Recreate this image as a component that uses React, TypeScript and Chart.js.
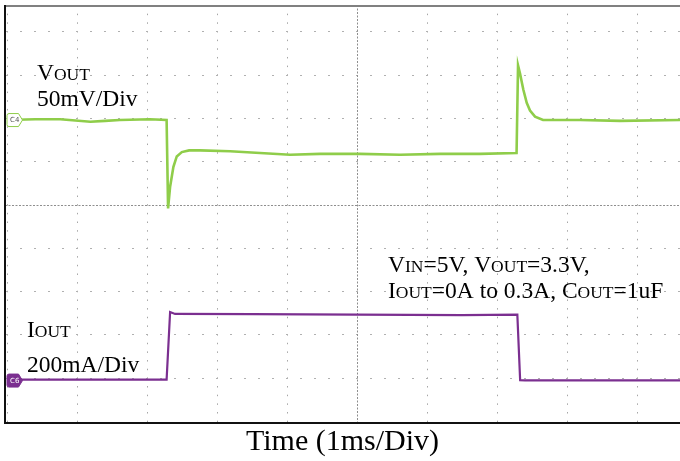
import React, { useEffect, useRef } from "react";
import { Chart, registerables } from "chart.js";

Chart.register(...registerables);

// ---- data (time in ms, Vout deviation in mV, Iout in mA) ----
const voutTimeMs = [
  0, 0.4, 0.76, 1.19, 1.4, 1.61, 2.04, 2.279,
  2.3, 2.329, 2.376, 2.424, 2.496, 2.6, 2.757,
  3.186, 3.614, 4.043, 4.471, 5.043, 5.614, 6.186, 6.757, 7.279,
  7.3, 7.33, 7.353, 7.376, 7.424, 7.471, 7.543, 7.657,
  8.186, 8.757, 9.614,
];
const voutMv = [
  0, 1, 1, -2, -1, 0, 1, 0,
  -102, -77, -54, -42, -37, -35, -35,
  -36, -38, -40, -39, -39, -40, -39, -39, -38,
  63, 53, 44, 35, 20, 11, 4, 0,
  0, -1, 0,
];
const ioutTimeMs = [0, 2.279, 2.329, 2.4, 3.5, 5.0, 6.5, 7.29, 7.33, 7.4, 9.614];
const ioutMa = [0, 0, 312, 303, 302, 300, 298, 300, -3, -4, -4];

const xGridTicks = [0, 1, 2, 3, 4, 5, 6, 7, 8, 9];
const yGridTicks = [-4, -3, -2, -1, 0, 1, 2, 3, 4];
const CENTER_MS = 5;

const xTitle = "Time (1ms/Div)";
// text in {} is drawn as small capitals
const voutLabel = ["V{OUT}", "50mV/Div"];
const ioutLabel = ["I{OUT}", "200mA/Div"];
const condLabel = ["V{IN}=5V, V{OUT}=3.3V,", "I{OUT}=0A to 0.3A, C{OUT}=1uF"];
const voutChannel = "C4";
const ioutChannel = "C6";

// ---- scope scaling ----
const X_MIN_MS = -0.03;
const X_MAX_MS = 9.614;
const DIV_TOP = 4.62;
const DIV_BOTTOM = -5.01;
const V_MV_PER_DIV = 50;
const V_ZERO_DIV = 1.963;
const I_MA_PER_DIV = 200;
const I_ZERO_DIV = -4.03;

const GREEN = "#8fcd4a";
const PURPLE = "#7b2f90";
const SERIF = '"Liberation Serif", "Times New Roman", serif';

function drawSC(ctx: CanvasRenderingContext2D, text: string, x: number, y: number, big: number, small: number) {
  const parts = text.split(/(\{[^}]*\})/).filter((p) => p.length);
  let cx = x;
  ctx.textBaseline = "alphabetic";
  ctx.textAlign = "left";
  for (const p of parts) {
    const sc = p.startsWith("{");
    const t = sc ? p.slice(1, -1) : p;
    ctx.font = `${sc ? small : big}px ${SERIF}`;
    ctx.fillText(t, cx, y);
    cx += ctx.measureText(t).width;
  }
}

function drawMarker(ctx: CanvasRenderingContext2D, x: number, y: number, label: string, fill: string, stroke: string, textColor: string) {
  const h = 13, w = 15.5, tip = 4;
  ctx.save();
  ctx.beginPath();
  ctx.moveTo(x + 2, y - h / 2);
  ctx.lineTo(x + w - tip, y - h / 2);
  ctx.lineTo(x + w, y);
  ctx.lineTo(x + w - tip, y + h / 2);
  ctx.lineTo(x + 2, y + h / 2);
  ctx.quadraticCurveTo(x, y + h / 2, x, y + h / 2 - 2);
  ctx.lineTo(x, y - h / 2 + 2);
  ctx.quadraticCurveTo(x, y - h / 2, x + 2, y - h / 2);
  ctx.closePath();
  ctx.fillStyle = fill;
  ctx.fill();
  ctx.lineWidth = 1;
  ctx.strokeStyle = stroke;
  ctx.stroke();
  ctx.fillStyle = textColor;
  ctx.font = '7px "DejaVu Sans", sans-serif';
  ctx.textBaseline = "middle";
  ctx.textAlign = "left";
  ctx.fillText(label, x + 3, y + 0.5);
  ctx.restore();
}

const scopeDecor = {
  id: "scopeDecor",
  beforeDatasetsDraw(chart: any) {
    const { ctx, chartArea: a, scales } = chart;
    const cx = Math.round(scales.x.getPixelForValue(CENTER_MS)) + 0.5;
    const cy = Math.round(scales.yG.getPixelForValue(0)) + 0.5;
    ctx.save();
    ctx.strokeStyle = "#8e8e8e";
    ctx.lineWidth = 1;
    ctx.setLineDash([2, 1.5]);
    ctx.beginPath();
    ctx.moveTo(cx, a.top);
    ctx.lineTo(cx, a.bottom);
    ctx.moveTo(a.left, cy);
    ctx.lineTo(a.right, cy);
    ctx.stroke();
    ctx.restore();
  },
  afterDatasetsDraw(chart: any) {
    const { ctx, chartArea: a, scales } = chart;
    drawMarker(ctx, a.left + 2, scales.yV.getPixelForValue(0), voutChannel, "#ffffff", GREEN, "#555555");
    drawMarker(ctx, a.left + 2, scales.yI.getPixelForValue(0) + 1, ioutChannel, PURPLE, PURPLE, "#ffffff");
    ctx.save();
    ctx.fillStyle = "#000000";
    const big = 23.5, small = 17.5;
    drawSC(ctx, voutLabel[0], 37, 80, big, small);
    drawSC(ctx, voutLabel[1], 37, 106, big, small);
    drawSC(ctx, ioutLabel[0], 27, 337, big, small);
    drawSC(ctx, ioutLabel[1], 27, 371.5, big, small);
    drawSC(ctx, condLabel[0], 388, 271.5, big, small);
    drawSC(ctx, condLabel[1], 388, 297.5, big, small);
    ctx.restore();
  },
  afterDraw(chart: any) {
    const { ctx, chartArea: a } = chart;
    ctx.save();
    ctx.lineWidth = 2;
    ctx.strokeStyle = "#808080";
    ctx.beginPath();
    ctx.moveTo(a.left - 1, a.top + 1);
    ctx.lineTo(a.right, a.top + 1);
    ctx.stroke();
    ctx.strokeStyle = "#111111";
    ctx.beginPath();
    ctx.moveTo(a.left, a.top);
    ctx.lineTo(a.left, a.bottom + 1);
    ctx.lineTo(a.right, a.bottom + 1);
    ctx.stroke();
    ctx.restore();
  },
};

export default function App() {
  const ref = useRef<HTMLCanvasElement | null>(null);

  useEffect(() => {
    document.body.style.margin = "0";
    const canvas = ref.current;
    if (!canvas) return;
    const chart = new Chart(canvas, {
      type: "line",
      data: {
        datasets: [
          {
            label: "VOUT",
            data: voutTimeMs.map((t, i) => ({ x: t, y: voutMv[i] })),
            borderColor: GREEN,
            borderWidth: 2.6,
            pointRadius: 0,
            tension: 0,
            xAxisID: "x",
            yAxisID: "yV",
          },
          {
            label: "IOUT",
            data: ioutTimeMs.map((t, i) => ({ x: t, y: ioutMa[i] })),
            borderColor: PURPLE,
            borderWidth: 2.2,
            pointRadius: 0,
            tension: 0,
            xAxisID: "x",
            yAxisID: "yI",
          },
        ],
      },
      options: {
        responsive: false,
        animation: false,
        devicePixelRatio: 1,
        layout: { padding: { left: 5, top: 5, right: 0, bottom: 0 } },
        plugins: { legend: { display: false }, tooltip: { enabled: false } },
        scales: {
          x: {
            type: "linear",
            min: X_MIN_MS,
            max: X_MAX_MS,
            afterBuildTicks: (s: any) => {
              s.ticks = xGridTicks.filter((v) => v !== CENTER_MS).map((v) => ({ value: v }));
            },
            ticks: { display: false },
            grid: { color: "#a6a6a6", lineWidth: 1, drawTicks: false },
            border: { display: false, dash: [1.5, 7.16], dashOffset: 0 },
            title: {
              display: true,
              text: xTitle,
              color: "#000000",
              font: { family: SERIF, size: 30 },
              padding: { top: 2, bottom: 1 },
            },
          },
          yG: {
            type: "linear",
            position: "left",
            min: DIV_BOTTOM,
            max: DIV_TOP,
            afterBuildTicks: (s: any) => {
              s.ticks = yGridTicks.filter((v) => v !== 0).map((v) => ({ value: v }));
            },
            ticks: { display: false },
            grid: { color: "#b0b0b0", lineWidth: 1, drawTicks: false },
            border: { display: false, dash: [2, 12], dashOffset: -1 },
          },
          yV: {
            type: "linear",
            display: false,
            min: (DIV_BOTTOM - V_ZERO_DIV) * V_MV_PER_DIV,
            max: (DIV_TOP - V_ZERO_DIV) * V_MV_PER_DIV,
          },
          yI: {
            type: "linear",
            display: false,
            min: (DIV_BOTTOM - I_ZERO_DIV) * I_MA_PER_DIV,
            max: (DIV_TOP - I_ZERO_DIV) * I_MA_PER_DIV,
          },
        },
      },
      plugins: [scopeDecor],
    } as any);
    return () => chart.destroy();
  }, []);

  return (
    <div style={{ position: "absolute", left: 0, top: 0, width: 680, height: 461, background: "#ffffff" }}>
      <canvas ref={ref} width={680} height={461} />
    </div>
  );
}
